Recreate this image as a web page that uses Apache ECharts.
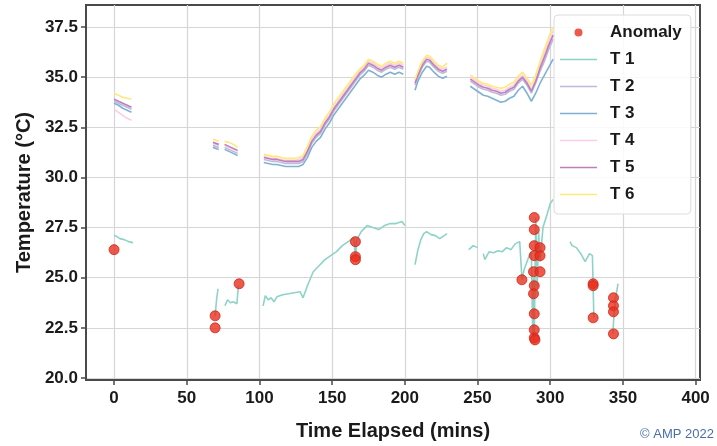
<!DOCTYPE html>
<html><head><meta charset="utf-8">
<script src="https://cdn.jsdelivr.net/npm/echarts@6/dist/echarts.min.js"></script>
<style>html,body{margin:0;padding:0;background:#fff}#c{width:717px;height:446px}</style>
</head><body><div id="c"></div>
<script>
// ---- data ----
var xTicks = [0, 50, 100, 150, 200, 250, 300, 350, 400];
var yTicks = [20.0, 22.5, 25.0, 27.5, 30.0, 32.5, 35.0, 37.5];

// time axis shared by T2..T6 (null rows in values mark gaps)
var tUpper = [0,3,6,9,12, 40, 68,70,72, 74, 76,79,82,85, 95,
  103,106,109,112,115,118,121,124,127,130,133,136,139,142,145,148,151,154,157,160,163,166,169,172,175,178,181,184,187,190,193,196,199,
  203, 207,209,212,215,217,220,223,226,229, 237,
  245,248,251,254,257,260,263,266,269,272,275,278,281,284,287,290,293,296,299,302];

var T2 = [33.8,33.7,33.6,33.5,33.4, null, 31.6,31.55,31.5, null, 31.5,31.4,31.3,31.2, null,
  30.9,30.85,30.8,30.8,30.75,30.7,30.7,30.7,30.7,30.8,31.2,31.7,32.0,32.2,32.6,32.9,33.3,33.6,33.9,34.2,34.5,34.8,35.1,35.3,35.6,35.5,35.35,35.25,35.4,35.5,35.4,35.5,35.4,
  null, 34.6,35.0,35.5,35.8,35.75,35.5,35.3,35.2,35.3, null,
  34.8,34.65,34.5,34.4,34.35,34.25,34.2,34.1,34.15,34.3,34.4,34.7,34.9,34.6,34.2,34.7,35.3,35.8,36.4,36.9];
var T3 = [33.7,33.6,33.45,33.35,33.25, null, 31.5,31.45,31.4, null, 31.4,31.3,31.2,31.1, null,
  30.75,30.7,30.65,30.65,30.6,30.55,30.55,30.55,30.55,30.65,31.0,31.5,31.8,32.0,32.4,32.7,33.1,33.4,33.7,34.0,34.3,34.6,34.9,35.1,35.35,35.25,35.1,35.0,35.15,35.25,35.15,35.25,35.15,
  null, 34.35,34.8,35.25,35.55,35.5,35.25,35.05,34.95,35.05, null,
  34.55,34.4,34.25,34.1,34.05,33.95,33.85,33.75,33.8,33.95,34.05,34.35,34.55,34.2,33.8,34.2,34.7,35.1,35.5,35.9];
var T4 = [33.4,33.25,33.1,32.95,32.85, null, 31.7,31.65,31.6, null, 31.6,31.5,31.4,31.3, null,
  31.05,31.0,30.95,30.95,30.9,30.85,30.85,30.85,30.9,31.0,31.4,31.9,32.2,32.4,32.8,33.1,33.5,33.8,34.1,34.4,34.7,35.0,35.3,35.5,35.8,35.7,35.55,35.45,35.6,35.7,35.6,35.7,35.6,
  null, 34.8,35.2,35.7,36.0,35.95,35.7,35.5,35.4,35.5, null,
  35.0,34.85,34.7,34.6,34.55,34.45,34.4,34.3,34.35,34.5,34.6,34.9,35.1,34.8,34.4,34.9,35.6,36.2,36.8,37.3];
var T5 = [33.9,33.8,33.7,33.6,33.5, null, 31.75,31.7,31.65, null, 31.65,31.55,31.45,31.35, null,
  31.0,30.95,30.9,30.9,30.85,30.8,30.8,30.8,30.8,30.9,31.3,31.8,32.1,32.3,32.7,33.0,33.4,33.7,34.0,34.3,34.6,34.9,35.2,35.4,35.7,35.6,35.45,35.35,35.5,35.6,35.5,35.6,35.5,
  null, 34.7,35.1,35.6,35.9,35.85,35.6,35.4,35.3,35.4, null,
  34.9,34.75,34.6,34.5,34.45,34.35,34.3,34.2,34.25,34.4,34.5,34.8,35.0,34.7,34.3,34.8,35.45,36.0,36.6,37.1];
var T6 = [34.2,34.1,34.0,33.95,33.9, null, 31.9,31.85,31.8, null, 31.8,31.75,31.65,31.5, null,
  31.15,31.1,31.05,31.05,31.0,30.95,30.95,30.95,31.0,31.1,31.55,32.05,32.35,32.55,32.95,33.25,33.65,33.95,34.25,34.55,34.85,35.15,35.4,35.6,35.9,35.8,35.65,35.55,35.7,35.8,35.7,35.8,35.7,
  null, 34.9,35.3,35.8,36.1,36.05,35.8,35.6,35.5,35.7, null,
  35.1,34.95,34.8,34.7,34.65,34.55,34.5,34.45,34.5,34.65,34.75,35.05,35.25,34.95,34.6,35.1,35.8,36.4,37.0,37.5];

var tT1 = [0,2,4,7,10,13, 40, 69.5,70.5,71.5, 74, 76.3,78,80,82,84.5,85.5, 95,
  102.5,104,106,108,110,112,116,120,124,128,130,133,137,141,145,149,153,157,161,165,166,167,170,174,178,182,186,190,194,198,200,
  204, 207,209,211,213,215,218,221,224,227,229, 237, 244,247,250, 252,
  254,255,258,261,264,267,270,273,276,279,280,280.6,282,285,287,288,288.5,289,290,291,292,293,295,298,300,302,
  308, 313.6,315,318,321,324,327,329,329.5,330, 336, 343,344,345,346.6];
var T1 = [27.1,27.05,26.95,26.9,26.8,26.75, null, 23.1,23.9,24.45, null, 23.6,23.9,23.75,23.8,23.7,24.6, null,
  23.6,24.1,23.9,24.0,23.8,24.05,24.15,24.2,24.25,24.3,24.0,24.6,25.3,25.6,25.9,26.1,26.3,26.6,26.8,27.0,26.0,26.9,27.3,27.6,27.5,27.4,27.6,27.7,27.7,27.8,27.6,
  null, 25.65,26.4,26.9,27.2,27.3,27.15,27.1,26.95,27.1,27.2, null, 26.4,26.6,26.5, null,
  26.2,25.9,26.3,26.25,26.35,26.3,26.5,26.4,26.7,26.8,25.6,24.9,25.4,26.0,26.3,22.0,25.0,21.9,28.0,24.5,27.3,25.8,27.5,28.2,28.7,28.9,
  null, 26.8,26.6,26.5,26.2,25.8,26.2,26.1,24.6,23.0, null, 22.2,23.3,24.0,24.7];

var anomalyT = [0, 69.5, 69.5, 86, 166, 166, 166, 280.5, 289, 289, 289, 289, 288.5, 289, 288.5, 289, 289, 289, 289.5, 293, 293, 293, 329.5, 329.5, 329.5, 343.5, 343.5, 343.5, 343.5];
var anomalyV = [26.4, 23.1, 22.5, 24.7, 26.8, 26.05, 25.9, 24.9, 28.0, 27.4, 26.6, 26.1, 25.3, 24.6, 24.2, 23.2, 22.4, 22.0, 21.9, 26.5, 26.1, 25.3, 24.7, 24.6, 23.0, 24.0, 23.6, 23.3, 22.2];

var names = ['T 1','T 2','T 3','T 4','T 5','T 6'];
var colors = ['#8dd3c7','#bebada','#80b1d3','#fccde5','#bc80bd','#ffe97a'];

function zip(t, v){ return t.map(function(x,i){ return [x, v[i] == null ? '-' : v[i]]; }); }

var lineData = [zip(tT1,T1), zip(tUpper,T2), zip(tUpper,T3), zip(tUpper,T4), zip(tUpper,T5), zip(tUpper,T6)];

var series = names.map(function(n,i){
  return {name:n, type:'line', data: lineData[i], showSymbol:false, symbol:'none', connectNulls:false,
    lineStyle:{color:colors[i], width:1.6}, itemStyle:{color:colors[i]}, z:2+i, animation:false};
});
series.push({name:'Anomaly', type:'scatter', data: zip(anomalyT, anomalyV), symbolSize:10,
  itemStyle:{color:'#e8301e', borderColor:'#d0261a', borderWidth:1}, z:20, animation:false});

// legend icons: invisible corner points keep the full 37x14 box so shapes keep their size
var ICON_LINE = 'path://M0,0 L0.01,0 Z M37,14 L36.99,14 Z M0,6.2 L37,6.2 L37,7.8 L0,7.8 Z';
var ICON_DOT = 'path://M0,0 L0.01,0 Z M37,14 L36.99,14 Z M14.5,7 A4,4 0 1 0 22.5,7 A4,4 0 1 0 14.5,7 Z';

var FONT = '"Liberation Sans", Arial, sans-serif';
var chart = echarts.init(document.getElementById('c'), null, {renderer:'canvas'});
var legendData = [{name:'Anomaly', icon:ICON_DOT, itemStyle:{color:'#e8301e', borderWidth:0}}];
names.forEach(function(n,i){ legendData.push({name:n, icon:ICON_LINE, itemStyle:{color:colors[i], borderWidth:0}, lineStyle:{width:0}}); });

chart.setOption({
  animation:false,
  grid:{left:86, right:17, top:5, bottom:61, show:true, borderColor:'#4a4a4a', borderWidth:2, backgroundColor:'transparent'},
  xAxis:{type:'value', min:-19.3, max:403,
    name:'Time Elapsed (mins)', nameLocation:'middle', nameGap:41,
    nameTextStyle:{fontFamily:FONT, fontWeight:'bold', fontSize:20, color:'#1a1a1a'},
    axisLine:{show:true, onZero:false, lineStyle:{color:'#4a4a4a', width:2}},
    axisTick:{show:true, length:5, customValues:xTicks, lineStyle:{color:'#4a4a4a', width:1.5}},
    axisLabel:{customValues:xTicks, fontFamily:FONT, fontWeight:'bold', fontSize:17, color:'#1a1a1a', margin:10},
    splitLine:{show:true, lineStyle:{color:'#d6d6d6', width:1.2}}
  },
  yAxis:{type:'value', min:19.9, max:38.6,
    name:'Temperature (°C)', nameLocation:'middle', nameGap:49,
    nameTextStyle:{fontFamily:FONT, fontWeight:'bold', fontSize:20, color:'#1a1a1a'},
    axisLine:{show:true, onZero:false, lineStyle:{color:'#4a4a4a', width:2}},
    axisTick:{show:true, length:5, customValues:yTicks, lineStyle:{color:'#4a4a4a', width:1.5}},
    axisLabel:{customValues:yTicks, fontFamily:FONT, fontWeight:'bold', fontSize:17, color:'#1a1a1a', margin:8,
      formatter:function(v){ return Number(v).toFixed(1); }},
    splitLine:{show:true, lineStyle:{color:'#d6d6d6', width:1.2}}
  },
  legend:{orient:'vertical', left:554, top:15, itemWidth:37, itemHeight:14, itemGap:10, symbolKeepAspect:true,
    padding:[9,9,11,6], backgroundColor:'rgba(255,255,255,0.85)', borderColor:'#dcdcdc', borderWidth:1, borderRadius:4,
    textStyle:{fontFamily:FONT, fontWeight:'bold', fontSize:17, color:'#1a1a1a', lineHeight:17, padding:[0,0,0,8]},
    data:legendData
  },
  graphic:[{type:'text', right:3, top:428, style:{text:'© AMP 2022', fontFamily:FONT, fontSize:13, fill:'#4a6ea8'}}],
  series:series
});
</script></body></html>
